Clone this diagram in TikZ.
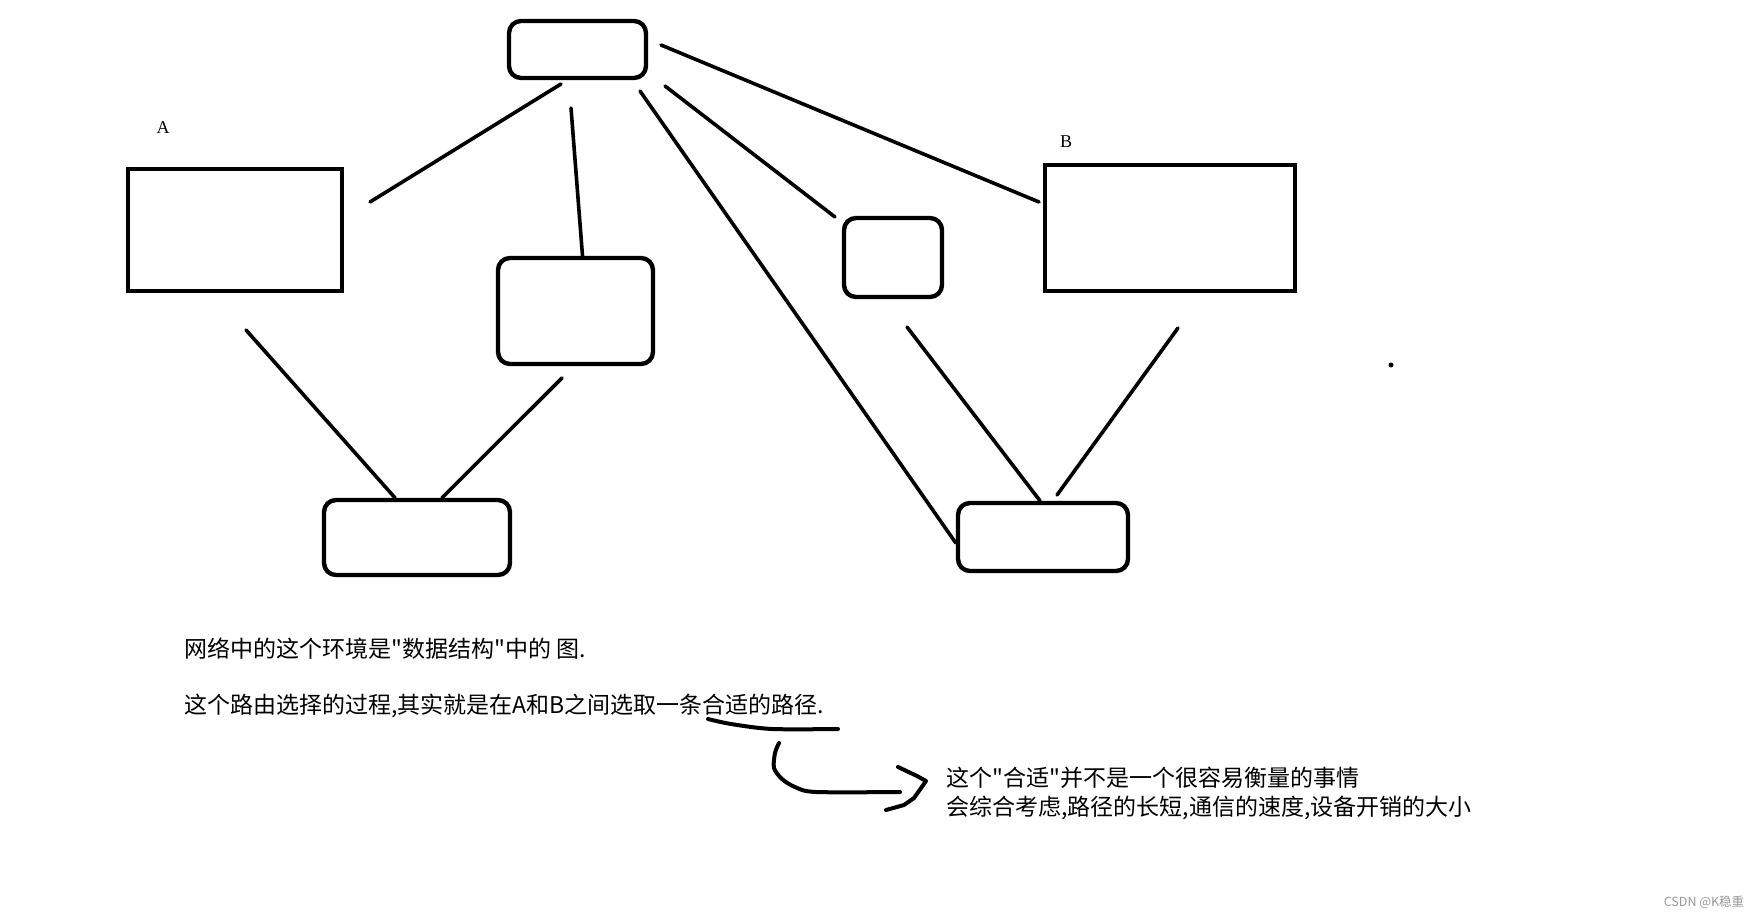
\documentclass[tikz,border=0pt]{standalone}
\usepackage{fontspec}
\setmainfont{Noto Sans CJK SC}
\newfontfamily\cjk{Noto Sans CJK SC}
\newfontfamily\latinfont{Liberation Serif}

\begin{document}
\begin{tikzpicture}[x=1pt,y=-1pt,
    host/.style={draw, line width=4.4pt, inner sep=0pt},
    router/.style={host, rounded corners=12pt},
    wire/.style={line width=3.6pt, line cap=round},
    pen/.style={line width=4pt, line cap=round, line join=round},
    note/.style={anchor=west, inner sep=0pt, align=left,
        font=\cjk\fontsize{23}{29}\selectfont}]
\useasboundingbox (0,0) rectangle (1761,917);
\fill[white] (0,0) rectangle (1761,917);

% the two hosts
\node[host, minimum width=214pt, minimum height=122pt] (A) at (235,230) {};
\node[host, minimum width=250pt, minimum height=126pt] (B) at (1170,228) {};
\node[font=\latinfont\fontsize{18}{20}\selectfont] (labA) at (163,128) {A};
\node[font=\latinfont\fontsize{18}{20}\selectfont] (labB) at (1066,142) {B};

% the routers in between
\node[router, minimum width=137pt, minimum height=57pt] (top)   at (577.5,49.5) {};
\node[router, minimum width=155pt, minimum height=106pt] (mid)  at (575.5,311) {};
\node[router, minimum width=98pt,  minimum height=79pt] (small) at (893,257.5) {};
\node[router, minimum width=186pt, minimum height=75pt] (botL)  at (417,537.5) {};
\node[router, minimum width=170pt, minimum height=68pt] (botR)  at (1043,537) {};

% free ends of the links
\coordinate (aR)   at (370,202);
\coordinate (aD)   at (246,330);
\coordinate (bL)   at (1039,202);
\coordinate (bD)   at (1178,328);
\coordinate (tSW)  at (561,84);
\coordinate (tS)   at (571,108);
\coordinate (tSE)  at (640,91);
\coordinate (tE1)  at (665,86);
\coordinate (tE2)  at (661,45);
\coordinate (mD)   at (562,378);
\coordinate (sU)   at (835,217);
\coordinate (sD)   at (907,327);
\coordinate (rU)   at (1057,495);

% all of the links
\draw[wire] (aR)  -- (tSW);                        % A to top
\draw[wire] (tS)  -- ([xshift=7pt]mid.north);      % top to mid
\draw[wire] (tSE) -- ([yshift=-6pt]botR.west);     % top to botR
\draw[wire] (tE1) -- (sU);                         % top to small
\draw[wire] (tE2) -- (bL);                         % top to B
\draw[wire] (aD)  -- ([xshift=-22pt]botL.north);   % A to botL
\draw[wire] (mD)  -- ([xshift=25pt]botL.north);    % mid to botL
\draw[wire] (sD)  -- ([xshift=-3pt]botR.north);    % small to botR
\draw[wire] (bD)  -- (rU);                         % B to botR

% stray dot
\fill (1391,365) circle (2.5);

% the notes
\node[note] (note1) at (184,649) {网络中的这个环境是"数据结构"中的 图.};
\node[note] (note2) at (184,706) {这个路由选择的过程,其实就是在A和B之间选取一条合适的路径.};
\node[note] (note3) at (946,793.5) {这个"合适"并不是一个很容易衡量的事情\\会综合考虑,路径的长短,通信的速度,设备开销的大小};

% hand drawn underline and arrow
\draw[pen] plot[smooth] coordinates {(708,719) (731,724) (772,729) (838,729)};
\draw[pen] plot[smooth] coordinates {(779,743) (775,753) (774,768) (782,779)
    (795,787) (816,792) (900,792)};
\draw[pen] (898,767) -- (917,776) -- (926,781) -- (914,798) -- (904,805) -- (886,810);

% watermark
\node[font=\fontsize{12.5}{15}\selectfont, text=black!40] (mark) at (1704,902) {CSDN @K稳重};
\end{tikzpicture}
\end{document}
